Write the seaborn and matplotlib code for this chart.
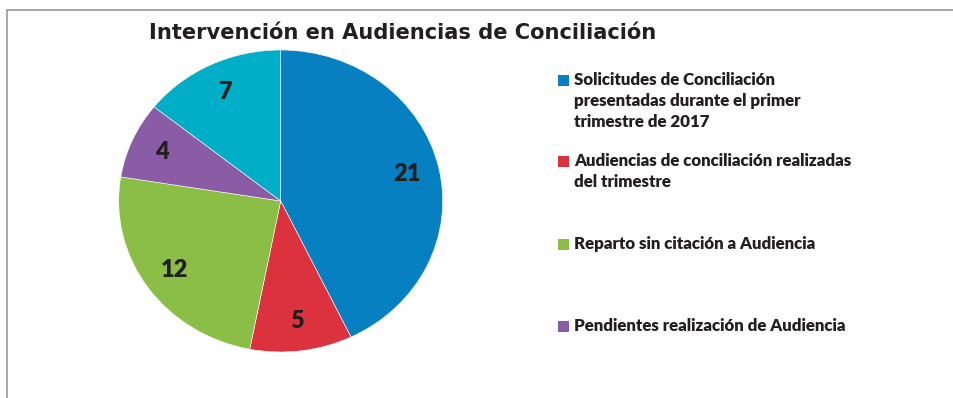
import matplotlib
matplotlib.use("Agg")
import matplotlib.pyplot as plt
from matplotlib.patches import Rectangle
from matplotlib.lines import Line2D
import seaborn as sns

# Data
categories = [
    "Solicitudes de Conciliación\npresentadas durante el primer\ntrimestre de 2017",
    "Audiencias de conciliación realizadas\ndel trimestre",
    "Reparto sin citación a Audiencia",
    "Pendientes realización de Audiencia",
    "Otros",
]
values = [21, 5, 12, 4, 7]
colors = ["#0680C0", "#DC3240", "#8BBE46", "#8A5CA5", "#00AEC8"]
legend_count = 4  # only the first four categories appear in the legend

sns.set_theme(style="white")
plt.rcParams["font.family"] = ["Lato", "DejaVu Sans"]

W, H = 954, 398
fig = plt.figure(figsize=(W / 100, H / 100), dpi=100)
fig.patch.set_facecolor("white")

# Chart frame (top and left edges visible)
fig.add_artist(Line2D([7.5 / W, 7.5 / W], [0, 1 - 9.5 / H], transform=fig.transFigure,
                      color="#A0A0A0", lw=1.3))
fig.add_artist(Line2D([7.5 / W, 1], [1 - 9.5 / H, 1 - 9.5 / H], transform=fig.transFigure,
                      color="#A0A0A0", lw=1.3))

# Pie area
cx, cy = 280.7, 201.0
rx, ry = 162.0, 151.0
ax = fig.add_axes([(cx - rx) / W, (H - cy - ry) / H, 2 * rx / W, 2 * ry / H])
wedges, texts, autotexts = ax.pie(
    values,
    colors=colors,
    startangle=90,
    counterclock=False,
    radius=1.0,
    autopct=lambda p: f"{round(p * sum(values) / 100):d}",
    pctdistance=0.8,
    wedgeprops=dict(edgecolor="white", linewidth=0.4),
    textprops=dict(fontsize=17, fontweight="heavy", color="#231F20"),
)
ax.set_xlim(-1, 1)
ax.set_ylim(-1, 1)
ax.set_aspect("auto")
ax.axis("off")

# Title
fig.text(402.5 / W, 1 - 39 / H, "Intervención en Audiencias de Conciliación",
         ha="center", va="baseline", fontsize=15.1, fontweight="bold",
         color="#231F20", family=["DejaVu Sans"])

# Legend
entry_tops = [80, 161, 244, 326]  # first-line centre of each entry (px from top)
line_h = 21
for i in range(legend_count):
    y0 = entry_tops[i]
    fig.patches.append(Rectangle((558 / W, 1 - (y0 + 5.5) / H), 11 / W, 11 / H,
                                 transform=fig.transFigure, facecolor=colors[i],
                                 edgecolor="none"))
    for j, line in enumerate(categories[i].split("\n")):
        fig.text(574 / W, 1 - (y0 + j * line_h) / H, line, ha="left", va="center",
                 fontsize=12.2, fontweight="heavy", color="#231F20")

fig.savefig("out.png", dpi=100, facecolor="white")
